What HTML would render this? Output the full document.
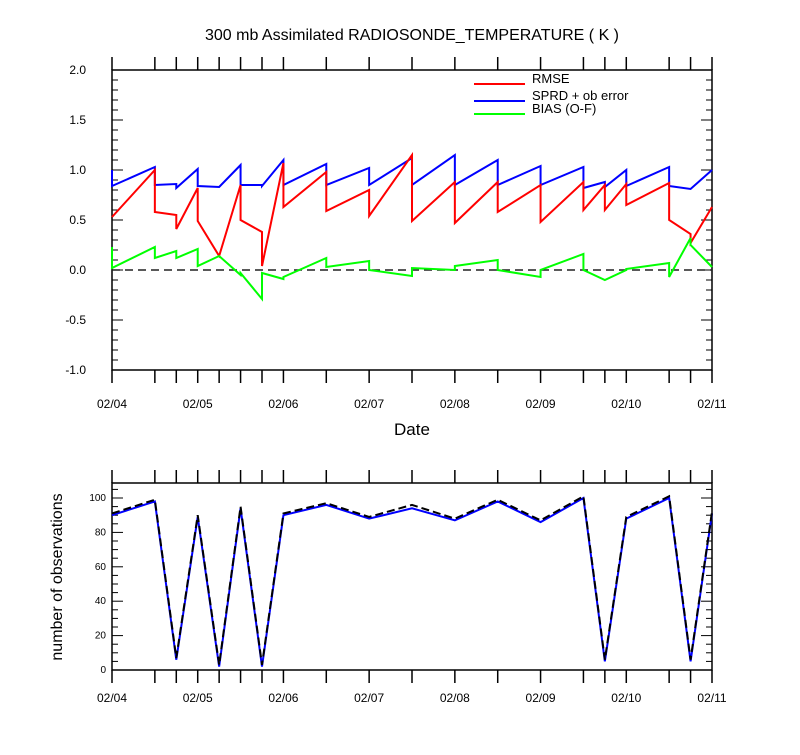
<!DOCTYPE html>
<html><head><meta charset="utf-8"><style>
body{margin:0;background:#fff}
svg text{font-family:"Liberation Sans",sans-serif}
</style></head><body>
<svg id="c" width="800" height="750" xmlns="http://www.w3.org/2000/svg"></svg>
<script>
const times=[0,0.5,0.75,1,1.25,1.5,1.75,2,2.5,3,3.5,4,4.5,5,5.5,5.75,6,6.5,6.75,7];
// each value pair: [arrival, departure] at each time
const rmse=[[0.53,0.53],[1.0,0.58],[0.55,0.41],[0.82,0.49],[0.14,0.14],[0.85,0.50],[0.38,0.04],[1.07,0.63],[0.98,0.59],[0.80,0.54],[1.15,0.49],[0.88,0.47],[0.88,0.58],[0.85,0.48],[0.88,0.60],[0.85,0.60],[0.86,0.65],[0.87,0.50],[0.36,0.27],[0.63,0.63]];
const sprd=[[1.0,0.84],[1.03,0.85],[0.86,0.82],[1.01,0.84],[0.83,0.83],[1.05,0.85],[0.85,0.84],[1.10,0.85],[1.06,0.85],[1.02,0.85],[1.12,0.85],[1.15,0.85],[1.10,0.85],[1.04,0.85],[1.03,0.82],[0.88,0.83],[1.00,0.84],[1.03,0.84],[0.81,0.81],[1.0,1.0]];
const bias=[[0.23,0.02],[0.23,0.12],[0.19,0.12],[0.21,0.04],[0.14,0.14],[-0.05,-0.03],[-0.29,-0.03],[-0.09,-0.07],[0.12,0.03],[0.09,0.0],[-0.06,0.02],[0.0,0.04],[0.10,0.0],[-0.07,0.0],[0.16,0.0],[-0.10,-0.10],[0.0,0.01],[0.07,-0.07],[0.32,0.25],[0.03,0.03]];
const obsUsed=[90,98,6,89,2,94,2,90,96,88,94,87,98,86,100,5,88,100,5,91];
const obsTotal=[91,99,7,90,3,95,3,91,97,89,96,88,99,87,101,6,89,101,6,92];
const dayLabels=["02/04","02/05","02/06","02/07","02/08","02/09","02/10","02/11"];
const yTicks1=["2.0","1.5","1.0","0.5","0.0","-0.5","-1.0"];
const yTicks2=[0,20,40,60,80,100];

const svg=document.getElementById('c');
const NS='http://www.w3.org/2000/svg';
function el(t,a,p){const e=document.createElementNS(NS,t);for(const k in a)e.setAttribute(k,a[k]);(p||svg).appendChild(e);return e;}
const X=d=>112+d*600/7;
const Y1=v=>270-v*100;
const Y2=v=>670-v*1.72;

function txt(x,y,s,size,anchor,name){const t=el('text',{x:x,y:y,'font-size':size,'text-anchor':anchor||'middle',fill:'#000'});t.textContent=s;return t;}

let t=txt(412,40,'300 mb Assimilated RADIOSONDE_TEMPERATURE ( K )',16,'middle','chart-title');

function frame(top,bot,name,lblOff){
  const r=el('rect',{x:112,y:top,width:600,height:bot-top,fill:'none',stroke:'#000','stroke-width':1.5});
  
  times.forEach(d=>{
    const a=el('line',{x1:X(d),x2:X(d),y1:top,y2:top-13,stroke:'#000','stroke-width':1.5});
    
    const b=el('line',{x1:X(d),x2:X(d),y1:bot,y2:bot+13,stroke:'#000','stroke-width':1.5});
    
  });
  dayLabels.forEach((s,i)=>txt(X(i),bot+lblOff,s,12,'middle','x-tick-label'));
}
frame(70,370,'top-plot-frame',38);
frame(483,670,'bottom-plot-frame',32);

// top y ticks
for(let i=0;i<=30;i++){const v=2-i*0.1;const maj=i%5==0;const L=maj?11:6;
  const a=el('line',{x1:112,x2:112+L,y1:Y1(v),y2:Y1(v),stroke:'#000','stroke-width':1});
  
  const b=el('line',{x1:712,x2:712-L,y1:Y1(v),y2:Y1(v),stroke:'#000','stroke-width':1});
  }
yTicks1.forEach(s=>txt(86,Y1(parseFloat(s))+4,s,12,'end','y-tick-label'));
txt(412,435,'Date',17,'middle','x-axis-title');

// zero line
let z=el('line',{x1:112,x2:712,y1:Y1(0),y2:Y1(0),stroke:'#222','stroke-width':1.5,'stroke-dasharray':'8,5'});


function saw(arr,color,name){
  let pts=[];times.forEach((d,i)=>{pts.push(X(d)+','+Y1(arr[i][0]));pts.push(X(d)+','+Y1(arr[i][1]));});
  const p=el('polyline',{points:pts.join(' '),fill:'none',stroke:color,'stroke-width':2});
  
}
saw(sprd,'#0000ff','sprd-line');
saw(rmse,'#ff0000','rmse-line');
saw(bias,'#00ff00','bias-line');

// legend
[['RMSE','#ff0000',84],['SPRD + ob error','#0000ff',101],['BIAS (O-F)','#00ff00',114]].forEach(l=>{
  const g=el('g',{});
  el('line',{x1:474,x2:525,y1:l[2],y2:l[2],stroke:l[1],'stroke-width':2},g);
  const tt=el('text',{x:532,y:l[2]-1,'font-size':13,fill:'#000'},g);tt.textContent=l[0];
});

// bottom y ticks
for(let v=0;v<=110;v+=5){if(Y2(v)<483)break;const maj=v%20==0;const L=maj?11:6;
  const a=el('line',{x1:112,x2:112+L,y1:Y2(v),y2:Y2(v),stroke:'#000','stroke-width':1});
  
  const b=el('line',{x1:712,x2:712-L,y1:Y2(v),y2:Y2(v),stroke:'#000','stroke-width':1});
  }
yTicks2.forEach(v=>txt(106,Y2(v)+3,String(v),10,'end','y2-tick-label'));
let yt=txt(0,0,'number of observations',16,'middle','y2-axis-title');
yt.setAttribute('transform','translate(62,577) rotate(-90)');

function line2(arr,color,dash,name){
  const p=el('polyline',{points:times.map((d,i)=>X(d)+','+Y2(arr[i])).join(' '),fill:'none',stroke:color,'stroke-width':2});
  if(dash)p.setAttribute('stroke-dasharray',dash);
  
}
line2(obsUsed,'#0000ff',null,'obs-used-line');
line2(obsTotal,'#000000','8,4','obs-total-line');
</script>
</body></html>
